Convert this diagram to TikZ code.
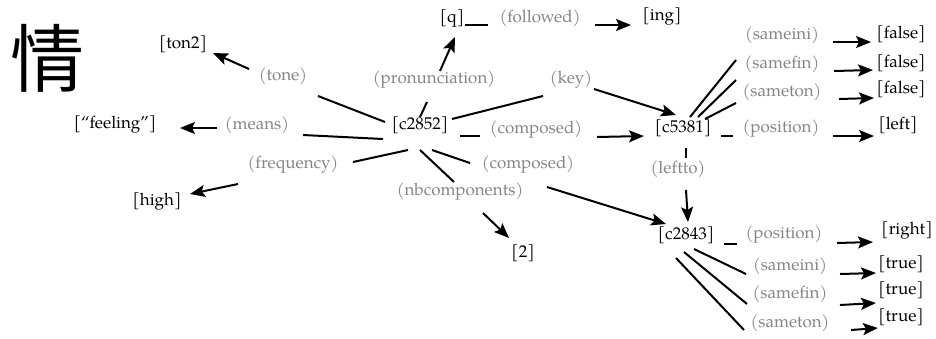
\documentclass[tikz,border=0pt]{standalone}
\usepackage{fontspec}
\setmainfont{TeX Gyre Pagella}
\newfontfamily\cjk{Noto Sans CJK SC}
\usetikzlibrary{arrows.meta,calc}
\tikzset{
  val/.style={inner sep=0pt,font=\fontsize{17}{20}\selectfont,text=black},
  lab/.style={inner sep=0pt,font=\fontsize{17}{20}\selectfont,text=black!48},
  ln/.style={line width=2pt},
  ar/.style={line width=2pt,-{Stealth[length=15pt,width=12pt,inset=3pt]}}
}
\begin{document}
\begin{tikzpicture}[x=1pt,y=-1pt]
\useasboundingbox (0,0) rectangle (936,338);
\node[inner sep=0pt,font=\cjk\fontsize{74}{80}\selectfont] (han) at (47,58) {情};
% value nodes
\node[val] (ton2) at (183,44) {[ton2]};
\node[val] (feeling) at (115,125) {[“feeling”]};
\node[val] (high) at (157,202) {[high]};
\node[val] (c2852) at (420,125) {[c2852]};
\node[val] (q) at (452,19) {[q]};
\node[val] (ing) at (662,17) {[ing]};
\node[val] (c5381) at (683,128) {[c5381]};
\node[val] (left) at (898,125) {[left]};
\node[val] (falseA) at (901,34) {[false]};
\node[val] (falseB) at (901,63) {[false]};
\node[val] (falseC) at (901,89) {[false]};
\node[val] (two) at (523,253) {[2]};
\node[val] (c2843) at (686,235) {[c2843]};
\node[val] (right) at (907,231) {[right]};
\node[val] (trueA) at (901,264) {[true]};
\node[val] (trueB) at (901,290) {[true]};
\node[val] (trueC) at (901,317) {[true]};
% label nodes
\node[lab] (tone) at (283,76) {(tone)};
\node[lab] (means) at (257,125) {(means)};
\node[lab] (freq) at (293,165) {(frequency)};
\node[lab] (pron) at (434,80) {(pronunciation)};
\node[lab] (followed) at (540,18) {(followed)};
\node[lab] (key) at (571,80) {(key)};
\node[lab] (compA) at (536,130) {(composed)};
\node[lab] (compB) at (528,165) {(composed)};
\node[lab] (nbc) at (460,192) {(nbcomponents)};
\node[lab] (posA) at (781,129) {(position)};
\node[lab] (siniA) at (782,35) {(sameini)};
\node[lab] (sfinA) at (782,64) {(samefin)};
\node[lab] (stonA) at (782,92) {(sameton)};
\node[lab] (leftto) at (678,169) {(leftto)};
\node[lab] (posB) at (784,235) {(position)};
\node[lab] (siniB) at (790,266) {(sameini)};
\node[lab] (sfinB) at (790,294) {(samefin)};
\node[lab] (stonB) at (790,323) {(sameton)};
% c2852 edges
\draw[ln] ($(c2852)+(-35,-3)$) -- ($(tone)+(35,20)$);
\draw[ar] ($(tone)+(-34,-7)$) -- ($(ton2)+(30,9)$);
\draw[ln] ($(c2852)+(-37,14)$) -- ($(means)+(46,10)$);
\draw[ar] ($(means)+(-40,3)$) -- ($(feeling)+(65,3)$);
\draw[ln] ($(c2852)+(0,-8)$) -- ($(pron)+(-7,22)$);
\draw[ar] ($(pron)+(6,-9)$) -- ($(q)+(3,18)$);
\draw[ln] ($(q)+(13,6)$) -- ($(followed)+(-52,7)$);
\draw[ar] ($(followed)+(55,7)$) -- ($(ing)+(-31,8)$);
\draw[ln] ($(c2852)+(32,-6)$) -- ($(key)+(-28,16)$);
\draw[ar] ($(key)+(23,9)$) -- ($(c5381)+(-7,-13)$);
\draw[ln] ($(c2852)+(40,11)$) -- ($(compA)+(-56,6)$);
\draw[ar] ($(compA)+(61,7)$) -- ($(c5381)+(-39,8)$);
\draw[ln] ($(c2852)+(12,25)$) -- ($(compB)+(-58,-2)$);
\draw[ar] ($(compB)+(19,22)$) -- ($(c2843)+(-20,-11)$);
\draw[ln] ($(c2852)+(0,25)$) -- ($(nbc)+(-6,-10)$);
\draw[ar] ($(nbc)+(23,21)$) -- ($(two)+(-14,-15)$);
\draw[ln] ($(c2852)+(-12,25)$) -- ($(freq)+(60,-3)$);
\draw[ar] ($(freq)+(-55,19)$) -- ($(high)+(33,-8)$);
% c5381 edges
\draw[ln] ($(c5381)+(38,8)$) -- ($(posA)+(-48,7)$);
\draw[ar] ($(posA)+(52,7)$) -- ($(left)+(-24,11)$);
\draw[ln] ($(c5381)+(7,-11)$) -- ($(siniA)+(-46,25)$);
\draw[ln] ($(c5381)+(15,-11)$) -- ($(sfinA)+(-46,16)$);
\draw[ln] ($(c5381)+(22,-9)$) -- ($(stonA)+(-46,11)$);
\draw[ar] ($(siniA)+(51,7)$) -- ($(falseA)+(-30,8)$);
\draw[ar] ($(sfinA)+(52,7)$) -- ($(falseB)+(-28,7)$);
\draw[ar] ($(stonA)+(57,7)$) -- ($(falseC)+(-27,9)$);
\draw[ln] ($(c5381)+(3,20)$) -- ($(leftto)+(8,-11)$);
\draw[ar] ($(leftto)+(8,21)$) -- ($(c2843)+(2,-13)$);
% c2843 edges
\draw[ln] ($(c2843)+(38,9)$) -- ($(posB)+(-47,9)$);
\draw[ar] ($(posB)+(53,8)$) -- ($(right)+(-34,11)$);
\draw[ln] ($(c2843)+(8,14)$) -- ($(siniB)+(-44,8)$);
\draw[ln] ($(c2843)+(-2,17)$) -- ($(sfinB)+(-43,10)$);
\draw[ln] ($(c2843)+(-10,23)$) -- ($(stonB)+(-46,7)$);
\draw[ar] ($(siniB)+(50,8)$) -- ($(trueA)+(-25,9)$);
\draw[ar] ($(sfinB)+(50,11)$) -- ($(trueB)+(-25,13)$);
\draw[ar] ($(stonB)+(61,7)$) -- ($(trueC)+(-23,11)$);
\end{tikzpicture}
\end{document}
